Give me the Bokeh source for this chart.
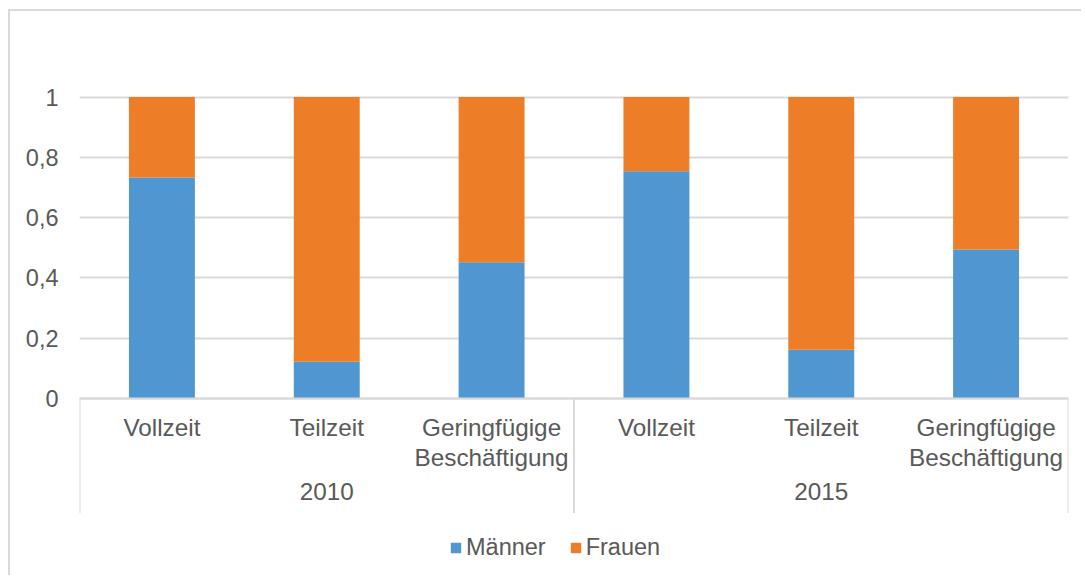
from bokeh.plotting import figure
from bokeh.models import (FactorRange, Range1d, FixedTicker, CustomJSTickFormatter,
                          Legend, LegendItem, ColumnDataSource)
from bokeh.embed import file_html
from bokeh.resources import INLINE

# ---- data ----
years = ["2010", "2015"]
job_types = ["Vollzeit", "Teilzeit", "Geringfügige\nBeschäftigung"]
maenner = [0.733, 0.122, 0.452, 0.754, 0.162, 0.494]
frauen = [0.267, 0.878, 0.548, 0.246, 0.838, 0.506]
series = ["Männer", "Frauen"]
colors = ["#5097D1", "#ED7D27"]
y_ticks = [0, 0.2, 0.4, 0.6, 0.8, 1.0]

factors = [(y, t) for y in years for t in job_types]
source = ColumnDataSource(data=dict(x=factors, **{"Männer": maenner, "Frauen": frauen}))

FONT = "Liberation Sans"
TXT = "#595959"
GRID = "#D9D9D9"
FS = "23.5px"
FS_X = "24.3px"

x_range = FactorRange(factors=factors, factor_padding=0, group_padding=0,
                      subgroup_padding=0, range_padding=0)
y_range = Range1d(-0.5937, 1.2604)

p = figure(x_range=x_range, y_range=y_range, width=1073, height=566,
           output_backend="svg", toolbar_location=None,
           min_border_left=69, min_border_right=15, min_border_top=7,
           min_border_bottom=0)
p.styles = {"margin-left": "8px", "margin-top": "9px",
            "border-left": f"2px solid {GRID}", "border-top": f"2px solid {GRID}"}
p.outline_line_color = None
p.background_fill_color = "white"
p.border_fill_color = "white"

rs = p.vbar_stack(series, x="x", width=0.4, source=source, color=colors, line_color=None)

# separators for the category groups (below the axis line)
n = len(job_types)
sep_x = [i * n for i in range(len(years) + 1)]
p.segment(x0=sep_x, y0=[0] * len(sep_x), x1=sep_x, y1=[-0.38] * len(sep_x),
          line_color=GRID, line_width=2)

# y axis
yax = p.yaxis[0]
yax.ticker = FixedTicker(ticks=y_ticks)
yax.formatter = CustomJSTickFormatter(code="return (Math.round(tick*10)/10).toString().replace('.', ',');")
yax.axis_line_color = None
yax.major_tick_line_color = None
yax.minor_tick_line_color = None
yax.major_label_standoff = 15
yax.major_label_text_font = FONT
yax.major_label_text_font_size = FS
yax.major_label_text_color = TXT

p.ygrid.grid_line_color = GRID
p.ygrid.grid_line_width = 2
p.xgrid.grid_line_color = None

# x axis, drawn at y = 0 inside the frame
xax = p.xaxis[0]
xax.fixed_location = 0
xax.axis_line_color = GRID
xax.axis_line_width = 2
xax.major_tick_line_color = None
xax.minor_tick_line_color = None
xax.separator_line_color = None
xax.major_label_standoff = 9
xax.major_label_text_font = FONT
xax.major_label_text_font_size = FS_X
xax.major_label_text_line_height = 1.12
xax.major_label_text_color = TXT
xax.group_text_font = FONT
xax.group_text_font_size = FS_X
xax.group_text_color = TXT
xax.group_text_font_style = "normal"

legend = Legend(items=[LegendItem(label=s, renderers=[r]) for s, r in zip(series, rs)],
                orientation="horizontal", location=(370, 16))
legend.border_line_color = None
legend.background_fill_alpha = 0
legend.glyph_width = 13
legend.glyph_height = 13
legend.label_standoff = 4
legend.spacing = 23
legend.padding = 0
legend.margin = 0
legend.label_text_font = FONT
legend.label_text_font_size = FS
legend.label_text_color = TXT
p.add_layout(legend)

open("out.html", "w").write(file_html(p, INLINE))
